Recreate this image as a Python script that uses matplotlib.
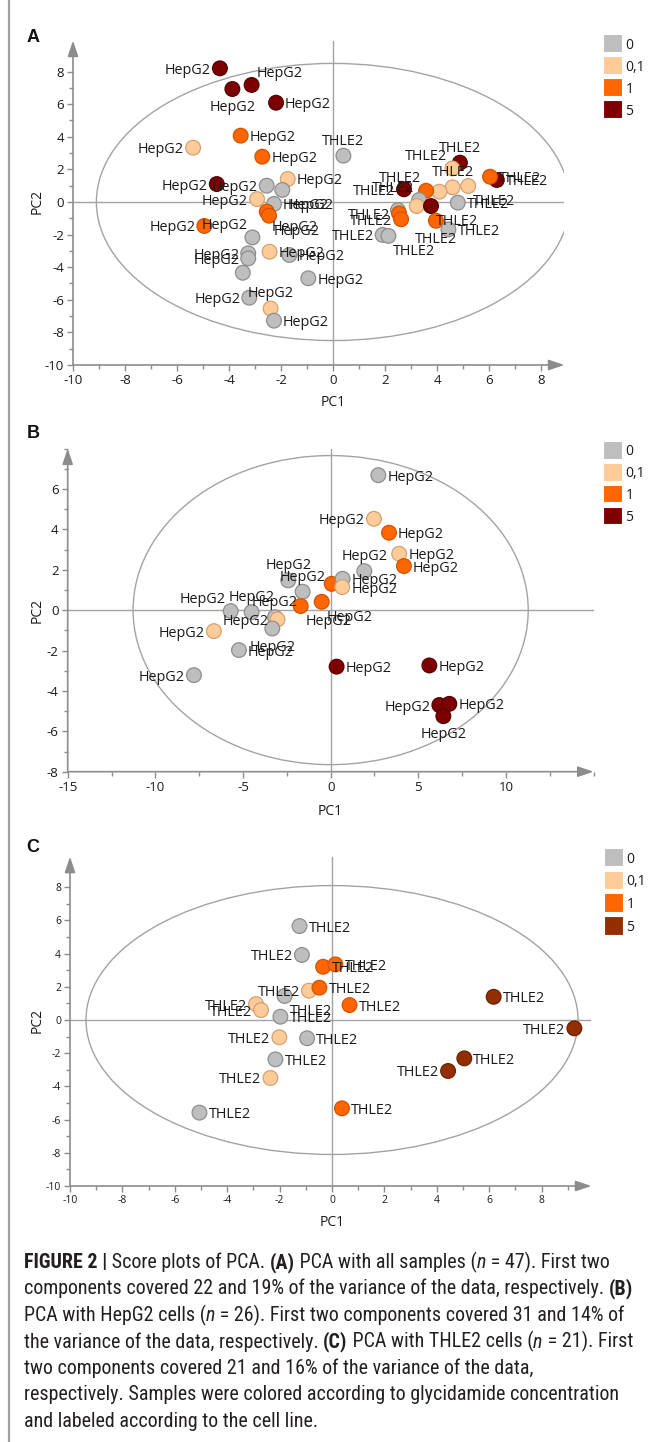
import matplotlib
matplotlib.use("Agg")
import matplotlib.pyplot as plt
import matplotlib.transforms as mtransforms
from matplotlib.patches import Ellipse, Rectangle
from matplotlib.lines import Line2D
from matplotlib.ticker import MultipleLocator
from matplotlib import font_manager as fm

W, H, DPI = 659, 1442, 100
plt.rcParams["axes.unicode_minus"] = False

# ------------------------------------------------------------------ data
levels = ["0", "0,1", "1", "5"]

# Panel A : all samples (26 HepG2 + 21 THLE2)
a_pc1 = [-4.35, -3.87, -3.13, -2.19, -3.55, -5.38, -2.72, -1.74, -4.47, -2.55,
         -1.95, -2.92, -2.27, -2.55, -2.46, -4.95, -3.10, -3.26, -3.26, -2.44,
         -1.68, -3.47, -0.95, -3.22, -2.40, -2.27,
         0.40, 4.88, 4.59, 6.30, 6.04, 5.20, 4.60, 4.09, 3.58, 2.73,
         3.31, 3.22, 3.77, 4.80, 2.50, 2.54, 2.62, 3.96, 4.44, 1.91, 2.13]
a_pc2 = [8.20, 6.93, 7.18, 6.09, 4.07, 3.33, 2.78, 1.41, 1.10, 1.00,
         0.74, 0.18, -0.12, -0.59, -0.84, -1.47, -2.17, -3.15, -3.46, -3.05,
         -3.25, -4.34, -4.68, -5.87, -6.54, -7.28,
         2.84, 2.41, 2.06, 1.35, 1.55, 0.98, 0.90, 0.63, 0.69, 0.78,
         0.12, -0.25, -0.25, -0.04, -0.50, -0.70, -1.06, -1.15, -1.68, -2.02, -2.08]
a_conc = ["5", "5", "5", "5", "1", "0,1", "1", "0,1", "5", "0",
          "0", "0,1", "0", "1", "1", "1", "0", "0", "0", "0,1",
          "0", "0", "0", "0", "0,1", "0",
          "0", "5", "0,1", "5", "1", "0,1", "0,1", "0,1", "1", "5",
          "0", "0,1", "5", "0", "0", "1", "1", "1", "0", "0", "0"]
a_cell = ["HepG2"] * 26 + ["THLE2"] * 21
a_side = ["l", "b", "tr", "r", "r", "l", "r", "r", "l", "l",
          "br", "l", "r", "br", "br", "l", "tl", "l", "l", "r",
          "r", "n", "r", "l", "t", "r",
          "t", "t", "tl", "r", "r", "br", "t", "n", "tl", "l",
          "tl", "n", "br", "r", "n", "l", "l", "b", "r", "l", "br"]

# Panel B : HepG2 cells
b_pc1 = [2.72, 2.47, 3.33, 3.91, 1.92, 4.18, 0.06, 0.68, 0.66, -2.42,
         -1.60, -1.71, -0.51, -5.70, -4.51, -3.18, -3.03, -3.33, -6.66, -5.23,
         -7.80, 0.34, 5.63, 6.20, 6.77, 6.43]
b_pc2 = [6.68, 4.52, 3.83, 2.79, 1.93, 2.18, 1.30, 1.55, 1.14, 1.47,
         0.91, 0.20, 0.41, -0.05, -0.10, -0.35, -0.46, -0.91, -1.04, -1.98,
         -3.22, -2.80, -2.74, -4.70, -4.64, -5.25]
b_conc = ["0", "0,1", "1", "0,1", "0", "1", "1", "0", "0,1", "0",
          "0", "1", "1", "0", "0", "0", "0,1", "0", "0,1", "0",
          "0", "5", "5", "5", "5", "5"]
b_cell = ["HepG2"] * 26
b_side = ["r", "l", "r", "r", "t", "r", "n", "r", "r", "t",
          "t", "br", "br", "tl", "t", "t", "l", "b", "l", "r",
          "l", "r", "r", "l", "r", "b"]

# Panel C : THLE2 cells
c_pc1 = [-1.24, -1.15, -0.34, 0.13, -0.88, -1.81, -0.48, -2.90, -2.71, -1.97,
         0.67, -2.01, -0.95, -2.16, -2.35, -5.06, 0.38, 6.17, 9.25, 5.05, 4.43]
c_pc2 = [5.66, 3.92, 3.21, 3.35, 1.77, 1.45, 1.95, 0.96, 0.60, 0.20,
         0.90, -1.04, -1.10, -2.37, -3.49, -5.58, -5.32, 1.40, -0.50, -2.31, -3.07]
c_conc = ["0", "0", "1", "1", "0,1", "0", "1", "0,1", "0,1", "0",
          "1", "0,1", "0", "0", "0,1", "0", "1", "5", "5", "5", "5"]
c_cell = ["THLE2"] * 21
c_side = ["r", "l", "r", "r", "l", "br", "r", "l", "l", "r",
          "r", "l", "r", "r", "l", "r", "r", "r", "l", "r", "l"]

# 95% confidence ellipses (semi-axes, PC units)
a_ellipse = (9.1, 8.5)
b_ellipse = (11.27, 7.65)
c_ellipse = (9.39, 8.1)

a_xticks = [-10, -8, -6, -4, -2, 0, 2, 4, 6, 8]
a_yticks = [-10, -8, -6, -4, -2, 0, 2, 4, 6, 8]
b_xticks = [-15, -10, -5, 0, 5, 10]
b_yticks = [-8, -6, -4, -2, 0, 2, 4, 6]
c_xticks = [-10, -8, -6, -4, -2, 0, 2, 4, 6, 8]
c_yticks = [-10, -8, -6, -4, -2, 0, 2, 4, 6, 8]

# ------------------------------------------------------------------ style
fill_ab = {"0": "#bebebe", "0,1": "#ffcc99", "1": "#ff6600", "5": "#7d0000"}
edge_ab = {"0": "#8e8e8e", "0,1": "#d2a273", "1": "#d25400", "5": "#560000"}
fill_c = dict(fill_ab, **{"5": "#922f00"})
edge_c = dict(edge_ab, **{"5": "#6a2200"})

FONT = ["Open Sans", "DejaVu Sans"]
AXC = "#8c8c8c"
TXT = "#1a1a1a"
LAB_FS = 10.4

PLACE = {"r": (6.5, 0, "left"), "l": (-6.5, 0, "right"),
         "t": (0, 12, "center"), "b": (0, -12, "center"),
         "tl": (-3.5, 10, "right"), "tr": (3.5, 10, "left"),
         "bl": (-3.5, -10, "right"), "br": (3.5, -10, "left")}

fig = plt.figure(figsize=(W / DPI, H / DPI), dpi=DPI)


def px_rect(l, t, r, b):
    return [l / W, 1 - b / H, (r - l) / W, (b - t) / H]


def panel(rect, xs, ys, concs, cells, sides, fills, edges, xlim, ylim,
          xticks, yticks, xminor, yminor, ell, tick_fs, letter, letter_y,
          leg_x, leg_top, leg_step, leg_h, pc1_off):
    ax = fig.add_axes(px_rect(*rect))
    ax.set_xlim(*xlim)
    ax.set_ylim(*ylim)
    for s in ax.spines.values():
        s.set_visible(False)
    ax.set_xticks(xticks)
    ax.set_yticks(yticks)
    ax.set_xticklabels([str(v) for v in xticks], family=FONT)
    ax.set_yticklabels([str(v) for v in yticks], family=FONT)
    ax.xaxis.set_minor_locator(MultipleLocator(xminor))
    ax.yaxis.set_minor_locator(MultipleLocator(yminor))
    ax.tick_params(which="both", direction="out", color=AXC, width=1,
                   labelcolor=TXT, labelsize=tick_fs, pad=2.5)
    ax.tick_params(which="major", length=4)
    ax.tick_params(which="minor", length=3)
    # axis lines with arrows
    ap = dict(arrowstyle="-|>,head_length=0.95,head_width=0.32", lw=1.2,
              color=AXC, shrinkA=0, shrinkB=0, mutation_scale=10)
    ax.annotate("", xy=(0, 1), xytext=(0, 0), xycoords="axes fraction",
                arrowprops=ap, annotation_clip=False)
    ax.annotate("", xy=(1, 0), xytext=(0, 0), xycoords="axes fraction",
                arrowprops=ap, annotation_clip=False)
    ax.axhline(0, color="#a3a3a3", lw=1, zorder=1)
    ax.axvline(0, color="#a3a3a3", lw=1, zorder=1)
    ax.add_patch(Ellipse((0, 0), 2 * ell[0], 2 * ell[1], fill=False,
                         ec="#a3a3a3", lw=1, zorder=1))
    ax.scatter(xs, ys, s=112, c=[fills[c] for c in concs],
               edgecolors=[edges[c] for c in concs], linewidths=0.9,
               zorder=3, clip_on=False)
    for x, y, lab, sd in zip(xs, ys, cells, sides):
        if sd == "n":
            continue
        dx, dy, ha = PLACE[sd]
        ax.annotate(lab, (x, y), xytext=(dx, dy), textcoords="offset points",
                    ha=ha, va="center_baseline", fontsize=LAB_FS, color=TXT,
                    family=FONT, zorder=4, annotation_clip=False)
    # axis titles
    tx = mtransforms.blended_transform_factory(ax.transData, fig.transFigure)
    ax.text(0, 1 - (rect[3] + pc1_off) / H, "PC1", transform=tx, ha="center",
            va="center", fontsize=10, color=TXT, family=FONT)
    ty = mtransforms.blended_transform_factory(fig.transFigure, ax.transData)
    ax.text(37 / W, 0, "PC2", transform=ty, ha="center", va="center",
            rotation=90, fontsize=10, color=TXT, family=FONT)
    # panel letter
    fig.text(33 / W, 1 - letter_y / H, letter, ha="center", va="center",
             fontsize=13, fontweight="bold", color="#111111",
             family=["Liberation Sans", "DejaVu Sans"])
    # legend
    for i, lv in enumerate(levels):
        top = leg_top + i * leg_step
        fig.add_artist(Rectangle((leg_x / W, 1 - (top + leg_h) / H), 19 / W,
                                 leg_h / H, transform=fig.transFigure,
                                 fc=fills[lv], ec="#ffffff", lw=0.8))
        fig.text((leg_x + 22.5) / W, 1 - (top + leg_h / 2) / H, lv,
                 ha="left", va="center_baseline", fontsize=10, color=TXT,
                 family=FONT)
    return ax


panel((73, 40.6, 564.4, 365), a_pc1, a_pc2, a_conc, a_cell, a_side, fill_ab,
      edge_ab, (-10, 8.9), (-10, 9.9), a_xticks, a_yticks, 1, 1, a_ellipse,
      9.5, "A", 38, 603, 34.3, 22, 17.5, 38)
panel((67.7, 448.5, 593.6, 771.7), b_pc1, b_pc2, b_conc, b_cell, b_side,
      fill_ab, edge_ab, (-15, 15), (-8, 8), b_xticks, b_yticks, 2.5, 1,
      b_ellipse, 9.5, "B", 433, 603, 441, 22, 17.5, 40)
panel((70, 856.7, 591.4, 1186), c_pc1, c_pc2, c_conc, c_cell, c_side, fill_c,
      edge_c, (-10, 9.9), (-10, 9.84), c_xticks, c_yticks, 1, 1, c_ellipse,
      7.5, "C", 847, 604, 848, 22.7, 18.5, 37)

# left rule of the figure box
fig.add_artist(Line2D([9 / W, 9 / W], [0, 1], transform=fig.transFigure,
                      color="#a0a0a0", lw=1.6))

# ------------------------------------------------------------------ caption
def pick(cands):
    for c in cands:
        try:
            fm.findfont(fm.FontProperties(family=c), fallback_to_default=False)
            return c
        except Exception:
            pass
    return "DejaVu Sans"


CAPF = pick(["Liberation Sans Narrow", "Roboto Condensed", "Liberation Sans"])
renderer = fig.canvas.get_renderer()


def adv(s, fs, wt, st):
    kw = dict(fontsize=fs, fontweight=wt, fontstyle=st, family=CAPF)
    t1 = fig.text(0, 0, s + "|", **kw)
    t2 = fig.text(0, 0, "|", **kw)
    w = t1.get_window_extent(renderer).width - t2.get_window_extent(renderer).width
    t1.remove()
    t2.remove()
    return w


N, B, I = ("normal", "normal"), ("bold", "normal"), ("normal", "italic")
cap_lines = [
    [("FIGURE 2 |", B), (" Score plots of PCA. ", N), ("(A)", B),
     (" PCA with all samples (", N), ("n", I), (" = 47). First two", N)],
    [("components covered 22 and 19% of the variance of the data, respectively. ", N),
     ("(B)", B)],
    [("PCA with HepG2 cells (", N), ("n", I),
     (" = 26). First two components covered 31 and 14% of", N)],
    [("the variance of the data, respectively. ", N), ("(C)", B),
     (" PCA with THLE2 cells (", N), ("n", I), (" = 21). First", N)],
    [("two components covered 21 and 16% of the variance of the data,", N)],
    [("respectively. Samples were colored according to glycidamide concentration", N)],
    [("and labeled according to the cell line.", N)],
]

x0, target = 24.0, 607.0
w_ref = sum(adv(t, 12, *fmt) for t, fmt in cap_lines[1])
cap_fs = 12 * target / w_ref

base0, step = 1268.0, 26.5
for i, runs in enumerate(cap_lines):
    x = x0
    y = 1 - (base0 + i * step) / H
    for t, (wt, st) in runs:
        fig.text(x / W, y, t, fontsize=cap_fs, fontweight=wt, fontstyle=st,
                 family=CAPF, ha="left", va="baseline", color="#231f20")
        x += adv(t, cap_fs, wt, st)

fig.savefig("out.png", dpi=DPI)
